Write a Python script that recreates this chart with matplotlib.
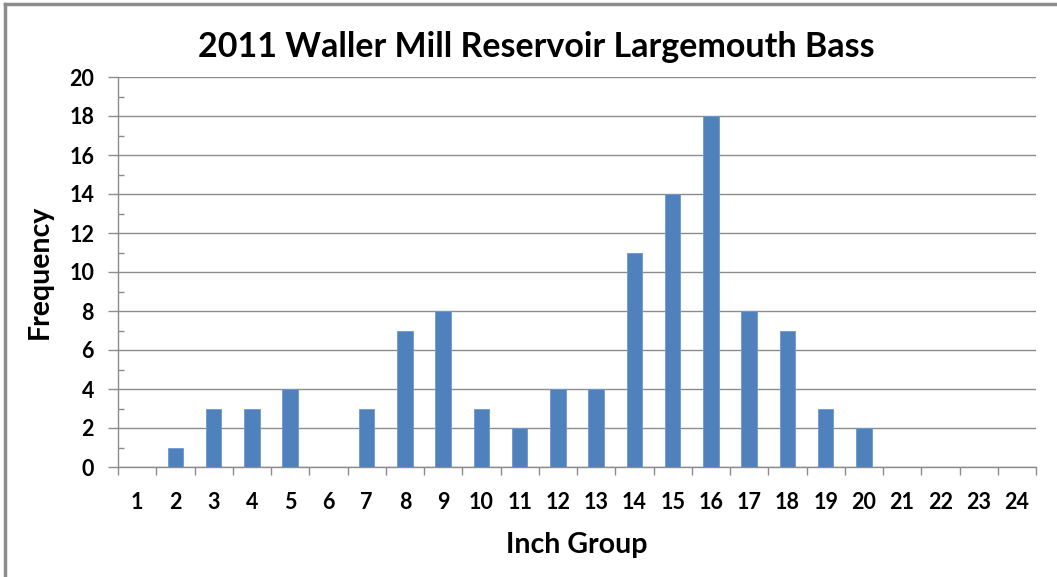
import matplotlib
matplotlib.use('Agg')
import matplotlib.pyplot as plt
from matplotlib.lines import Line2D
import numpy as np

# 数据：英寸组与频数
inch_groups = list(range(1, 25))
frequency = [0, 1, 3, 3, 4, 0, 3, 7, 8, 3, 2, 4, 4, 11, 14, 18, 8, 7, 3, 2, 0, 0, 0, 0]
y_ticks = list(range(0, 21, 2))

title = "2011 Waller Mill Reservoir Largemouth Bass"
x_label = "Inch Group"
y_label = "Frequency"

plt.rcParams['font.family'] = ['Lato', 'DejaVu Sans']
plt.rcParams['font.weight'] = 'bold'

W, H = 1057, 577
fig = plt.figure(figsize=(W / 100, H / 100), dpi=100)
ax = fig.add_axes([118 / W, 1 - 467 / H, 918 / W, 390 / H])

bar_color = '#4F81BD'
grid_color = '#8C8C8C'

ax.bar(inch_groups, frequency, width=0.4, color=bar_color, edgecolor='#6E98CC',
       linewidth=0.6, zorder=3)

ax.set_xlim(0.5, 24.5)
ax.set_ylim(0, 20)

# y轴：主刻度朝外，次刻度朝内
ax.set_yticks(y_ticks)
ax.set_yticks(np.arange(1, 20, 2), minor=True)
ax.tick_params(axis='y', which='major', direction='out', length=7.2, width=1,
               color=grid_color, pad=10, labelsize=15.5)
ax.tick_params(axis='y', which='minor', direction='in', length=4.3, width=1,
               color=grid_color)

# x轴：标签放在类别中心，刻度线在类别边界
ax.set_xticks(inch_groups)
ax.set_xticklabels([str(v) for v in inch_groups])
ax.set_xticks(np.arange(0.5, 25, 1), minor=True)
ax.tick_params(axis='x', which='major', length=0, pad=18, labelsize=15.5)
ax.tick_params(axis='x', which='minor', direction='out', length=5.5, width=1,
               color=grid_color)

ax.grid(axis='y', which='major', color=grid_color, linewidth=1, zorder=0)
ax.set_axisbelow(True)

for side in ['top', 'right']:
    ax.spines[side].set_visible(False)
for side in ['left', 'bottom']:
    ax.spines[side].set_color(grid_color)
    ax.spines[side].set_linewidth(1)

ax.set_xlabel(x_label, fontsize=20.5, fontweight='bold')
ax.xaxis.set_label_coords(0.4995, -0.2)
ax.xaxis.label.set_va('center')
ax.set_ylabel(y_label, fontsize=20.5, fontweight='bold')
ax.yaxis.set_label_coords(-0.085, 0.5)
ax.yaxis.label.set_va('center')

fig.text(536 / W, 1 - 47 / H, title, ha='center', va='center', fontsize=24.5,
         fontweight='bold')

# 外框
frame_color = '#8C8C8C'
fig.add_artist(Line2D([5 / W, 5 / W], [0, 1 - 4 / H], color=frame_color,
                      linewidth=2.5, transform=fig.transFigure))
fig.add_artist(Line2D([5 / W, 1], [1 - 4 / H, 1 - 4 / H], color=frame_color,
                      linewidth=2.5, transform=fig.transFigure))

fig.savefig('out.png', dpi=100)
